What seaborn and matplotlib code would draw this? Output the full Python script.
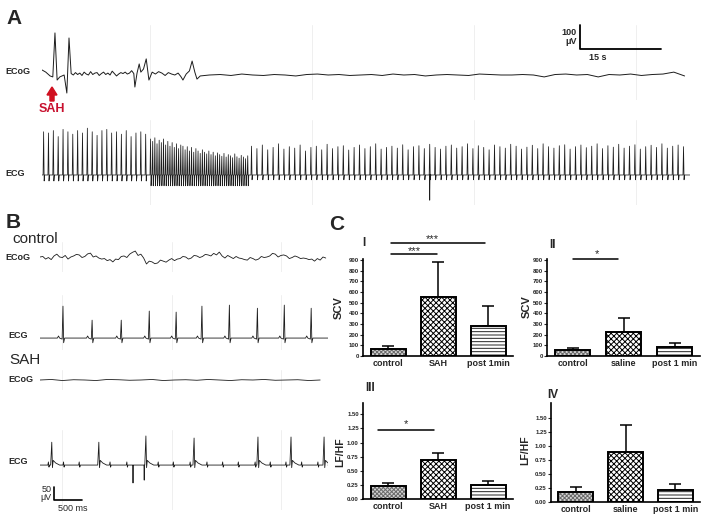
import numpy as np
import pandas as pd
import matplotlib
matplotlib.use("Agg")
import matplotlib.pyplot as plt
from matplotlib.ticker import FormatStrFormatter
import seaborn as sns

# ---------------- data ----------------
# Panel A, ECoG (time in s, amplitude in uV)
ecog_a_t = [0.0, 0.7, 1.5, 2.0, 2.4, 2.8, 3.3, 4.1, 4.6, 5.0]
ecog_a_v = [21, 12, -4, -8, 175, -21, -8, 0, -75, 154]
# sampled every 0.4 s from 5.4 s
ecog_a_wiggle_v = [6, 0, 10, 2, 8, -2, 12, 4, 0, 14, 2, 8, 10, -2, 6,
                   12, 2, 8, 0, 16, 6, -4, 4, 10, 6, 12, 4, 8, 18, 6]
ecog_a_burst_t = [17.2, 17.6, 18.0, 18.3, 18.8, 19.3, 19.8, 20.4, 21.0, 21.6, 22.2, 22.8,
                  23.4, 24.0, 24.6, 25.2, 25.7, 26.1, 26.7, 27.3, 27.8, 28.3, 28.7, 29.3]
ecog_a_burst_v = [-50, 8, 46, 12, 25, 67, -21, 12, 4, 14, 8, -2,
                  10, 4, 0, 8, -6, -21, 4, 17, 58, 12, -17, -4]
# sampled every 2 s from 31 s
ecog_a_flat_v = [0, 2, -2, 4, 0, -2, 2, 0, -4, 2,
                 4, 0, 2, -2, 0, 2, -2, 4, 0, 2,
                 -4, 0, 2, 0, -2, 4, 2, 0, 0, 2,
                 0, -8, 2, 4, 0, 2, -8, 2, 0, 4,
                 -2, 2, 4, 12, -4]

# Panel A, ECG: three rhythm segments (start s, beat interval s, R amplitudes uV, S depth uV)
ecg_a_seg_start = [0.3, 20.1, 38.8]
ecg_a_seg_rr = [0.9, 0.4, 1.0]
ecg_a_seg_depth = [25, 45, 20]
ecg_a_amps_1 = [180, 175, 185, 160, 190, 180, 170, 185, 175, 195, 180,
                165, 185, 190, 175, 180, 170, 185, 160, 175, 180, 170]
ecg_a_amps_2 = [150, 140, 155, 130, 145, 135, 150, 125, 140, 120, 135, 115,
                130, 110, 125, 120, 105, 118, 100, 115, 95, 110, 100, 90,
                105, 95, 88, 100, 85, 95, 80, 92, 85, 78, 90, 75,
                85, 80, 72, 88, 76, 70, 82, 75, 68, 80]
ecg_a_amps_3 = [120, 110, 125, 105, 115, 130, 108, 118, 112, 125, 100, 115, 120, 105, 128, 110, 118, 122, 104, 115,
                125, 110, 118, 130, 108, 115, 120, 112, 126, 105, 118, 122, 110, 128, 115, 108, 120, 125, 112, 118,
                130, 110, 122, 115, 105, 125, 118, 112, 128, 120, 108, 116, 124, 110, 130, 118, 112, 122, 126, 108,
                118, 125, 114, 120, 130, 110, 122, 116, 128, 112, 120, 126, 108, 118, 124, 115, 130, 112, 120, 125, 118]
ecg_a_down_t = [71.8]
ecg_a_down_v = [-105]

# Panel B, control ECoG, sampled every 0.05 s
ecog_ctrl_v = [4, 6, -4, 2, -6, 8, 15, 4, 2, 10, -4, 4, 8, 14, 12, 2, 6, 16, 19, 4,
               8, 0, -4, -2, -10, -6, -15, -4, -6, 6, 8, 2, 15, 22, 27, 10, 15, 0, -23, -12,
               -15, -22, -19, -8, -12, -16, -8, -2, -10, -4, -2, 6, 4, -4, 0, 10, 8, 2, 6, 14,
               12, 8, 18, 12, 23, 8, 0, 10, 4, -2, 6, 0, -2, -6, -8, 2, -2, -8, -4, 6,
               2, 4, 8, 18, 15, 4, 10, 12, 8, -2, 2, 8, 4, -2, 0, -2, -6, -4, -12, -2,
               -8, 4, 0]
# Panel B, control ECG beats
ecg_ctrl_t = [0.41, 0.93, 1.45, 1.95, 2.43, 2.89, 3.38, 3.88, 4.36, 4.84]
ecg_ctrl_a = [123, 69, 69, 104, 100, 123, 127, 115, 127, 115]
# Panel B, SAH ECoG, sampled every 0.2 s
ecog_sah_v = [0, 2, -2, 1, 0, -2, 2, 1, -1, 0, 2, -2, 0, 1, -1, 2, 0, -2, 1, 0, 2, -1, 0, 1, -2, 0]
# Panel B, SAH ECG
ecg_sah_big_t = [0.21, 1.05, 1.89, 2.75, 3.89, 4.48, 5.07]
ecg_sah_big_a = [88, 88, 112, 104, 108, 108, 108]
ecg_sah_small_t = [0.15, 0.42, 0.70, 1.25, 1.55, 2.11, 2.38, 2.68, 2.98, 3.26,
                   3.54, 3.84, 4.11, 4.39, 4.67, 4.96]
ecg_sah_down_t = [1.66, 1.86]
ecg_sah_down_a = [-69, -58]

# Panel C bar data (mean and SD)
groups_sah = ["control", "SAH", "post 1min"]
groups_sah_lf = ["control", "SAH", "post 1 min"]
groups_saline = ["control", "saline", "post 1 min"]
scv_sah_mean = [68, 556, 281]
scv_sah_sd = [22, 329, 188]
scv_saline_mean = [55, 225, 80]
scv_saline_sd = [23, 128, 42]
lfhf_sah_mean = [0.23, 0.69, 0.25]
lfhf_sah_sd = [0.05, 0.12, 0.07]
lfhf_saline_mean = [0.18, 0.89, 0.21]
lfhf_saline_sd = [0.09, 0.48, 0.12]

# ---------------- figure ----------------
sns.set_style("white")
plt.rcParams["font.family"] = ["Liberation Sans", "DejaVu Sans"]
plt.rcParams["hatch.linewidth"] = 0.7

W, H = 703, 520
fig = plt.figure(figsize=(W / 100, H / 100), dpi=100)
TRACE = "#1c1c1c"


def px_axes(x0, y0, x1, y1):
    return fig.add_axes([x0 / W, 1 - y1 / H, (x1 - x0) / W, (y1 - y0) / H])


def ftext(x, y, s, **kw):
    kw.setdefault("va", "center")
    return fig.text(x / W, 1 - y / H, s, **kw)


def trace(ax, t, v, lw=0.6):
    sns.lineplot(x=np.asarray(t, float), y=np.asarray(v, float), ax=ax, color=TRACE,
                 linewidth=lw, estimator=None, sort=False)


def trace_ax(ax, xlim, ylim, grid):
    ax.set_xlim(*xlim)
    ax.set_ylim(*ylim)
    for g in grid:
        ax.axvline(g, color="#ececec", lw=0.6, zorder=0)
    ax.axis("off")


def events_to_path(events, t0, t1):
    events = sorted(events, key=lambda e: e[0][0])
    ts, vs = [t0], [0.0]
    for ev in events:
        for tt, vv in ev:
            ts.append(tt)
            vs.append(vv)
    ts.append(t1)
    vs.append(0.0)
    return ts, vs


# ----- Panel A -----
ax = px_axes(42, 25, 690, 100)
t = list(ecog_a_t) + list(5.4 + 0.4 * np.arange(len(ecog_a_wiggle_v))) + list(ecog_a_burst_t) \
    + list(31 + 2 * np.arange(len(ecog_a_flat_v)))
v = list(ecog_a_v) + list(ecog_a_wiggle_v) + list(ecog_a_burst_v) + list(ecog_a_flat_v)
trace(ax, t, v, lw=0.7)
trace_ax(ax, (0, 120), (-104, 208), [20, 50, 80, 110])
# scale bar 100 uV / 15 s
ax.plot([99.6, 99.6, 114.6], [208, 108, 108], color="black", lw=1.3, clip_on=False)
ax.text(99.0, 158, "100\nμV", ha="right", va="center", fontsize=6.5, fontweight="bold", linespacing=0.9)
ax.text(101.3, 71, "15 s", ha="left", va="center", fontsize=6.5, fontweight="bold")

ax = px_axes(42, 120, 690, 205)
events = []
for start, rr, depth, amps in zip(ecg_a_seg_start, ecg_a_seg_rr, ecg_a_seg_depth,
                                  [ecg_a_amps_1, ecg_a_amps_2, ecg_a_amps_3]):
    for i, a in enumerate(amps):
        tb = start + i * rr
        events.append([(tb - 0.1, 0), (tb, a), (tb + 0.1, -depth), (tb + 0.2, 0)])
for tb, a in zip(ecg_a_down_t, ecg_a_down_v):
    events.append([(tb - 0.05, 0), (tb, a), (tb + 0.05, 0)])
t, v = events_to_path(events, 0, 120)
trace(ax, t, v, lw=0.55)
trace_ax(ax, (0, 120), (-125, 229), [20, 50, 80, 110])

ftext(6, 18, "A", fontsize=15, fontweight="bold")
ftext(5, 72, "ECoG", fontsize=6.5, fontweight="bold")
ftext(5, 174, "ECG", fontsize=6.5, fontweight="bold")
ftext(52, 109, "SAH", fontsize=9, fontweight="bold", color="#c8102e", ha="center")
fig.add_artist(matplotlib.patches.FancyArrow(52 / W, 1 - 101 / H, 0, 14 / H, width=3 / H,
                                             head_width=10 / W, head_length=8 / H,
                                             length_includes_head=True, color="#d01020",
                                             transform=fig.transFigure))

# ----- Panel B -----
tb_end = 5.14
ax = px_axes(40, 242, 328, 272)
trace(ax, 0.05 * np.arange(len(ecog_ctrl_v)), ecog_ctrl_v)
trace_ax(ax, (0, tb_end), (-54, 62), [0.4, 2.35, 4.3])

ax = px_axes(40, 295, 328, 350)
events = []
for tb, a in zip(ecg_ctrl_t, ecg_ctrl_a):
    events.append([(tb - 0.10, 0), (tb - 0.08, 8), (tb - 0.06, 0), (tb - 0.015, -4),
                   (tb, a), (tb + 0.012, -18), (tb + 0.03, 0)])
t, v = events_to_path(events, 0, tb_end)
trace(ax, t, v)
trace_ax(ax, (0, tb_end), (-46, 166), [0.4, 2.35, 4.3])

ax = px_axes(40, 370, 328, 390)
trace(ax, 0.2 * np.arange(len(ecog_sah_v)), ecog_sah_v)
trace_ax(ax, (0, tb_end), (-38, 38), [0.4, 2.35, 4.3])

ax = px_axes(40, 430, 328, 510)
events = []
for tb, a in zip(ecg_sah_big_t, ecg_sah_big_a):
    events.append([(tb - 0.02, 0), (tb, a), (tb + 0.012, -10), (tb + 0.025, 18),
                   (tb + 0.07, 8), (tb + 0.14, 0)])
for tb in ecg_sah_small_t:
    events.append([(tb - 0.01, 0), (tb, 12), (tb + 0.01, -8), (tb + 0.02, 0)])
for tb, a in zip(ecg_sah_down_t, ecg_sah_down_a):
    events.append([(tb - 0.005, 0), (tb, a), (tb + 0.005, 0)])
t, v = events_to_path(events, 0, tb_end)
trace(ax, t, v)
trace_ax(ax, (0, tb_end), (-173, 135), [0.4, 2.35, 4.3])
ax.plot([0.25, 0.25, 0.75], [-85, -135, -135], color="black", lw=1.2, clip_on=False)
ax.text(0.2, -110, "50\nμV", ha="right", va="center", fontsize=6.5, linespacing=0.9)
ax.text(0.32, -167, "500 ms", ha="left", va="center", fontsize=6.5)

ftext(6, 222, "B", fontsize=15, fontweight="bold")
ftext(12, 239, "control", fontsize=11)
ftext(5, 257, "ECoG", fontsize=6.5, fontweight="bold")
ftext(8, 336, "ECG", fontsize=6.5, fontweight="bold")
ftext(9, 360, "SAH", fontsize=11)
ftext(8, 380, "ECoG", fontsize=6.5, fontweight="bold")
ftext(8, 462, "ECG", fontsize=6.5, fontweight="bold")

# ----- Panel C -----
# (face colour, hatch colour, hatch) for control, SAH/saline, post 1 min
HATCHES = [("#d4d4d4", "#6a6a6a", "xxxxxxxx"), ("white", "black", "xxxxxx"), ("white", "#222222", "-----")]


def bar_panel(box, groups, means, sds, ylim, yticks, fmt):
    ax = px_axes(*box)
    df = pd.DataFrame({"group": groups, "value": means})
    ax.errorbar(x=np.arange(3), y=means, yerr=[np.zeros(3), sds], fmt="none",
                ecolor="black", elinewidth=1.1, capsize=4.5, capthick=1.1, zorder=1)
    # hatched fill
    sns.barplot(data=df, x="group", y="value", ax=ax, color="white", width=0.7,
                linewidth=0, errorbar=None, zorder=2)
    for p, (fc, hc, h) in zip(ax.patches, HATCHES):
        p.set_facecolor(fc)
        p.set_edgecolor(hc)
        p.set_hatch(h)
    # black outline
    sns.barplot(data=df, x="group", y="value", ax=ax, fill=False, width=0.7,
                edgecolor="black", linewidth=1.4, errorbar=None, zorder=3)
    ax.set_xlim(-0.5, 2.5)
    ax.set_ylim(*ylim)
    ax.set_yticks(yticks)
    ax.yaxis.set_major_formatter(FormatStrFormatter(fmt))
    ax.set_xlabel("")
    ax.set_ylabel("")
    sns.despine(ax=ax)
    for s in ["left", "bottom"]:
        ax.spines[s].set_linewidth(1.2)
        ax.spines[s].set_color("black")
    ax.tick_params(axis="y", left=True, length=2, width=0.8, pad=1, labelsize=4.3)
    ax.tick_params(axis="x", length=0, pad=2, labelsize=6.5)
    for lbl in ax.get_yticklabels() + ax.get_xticklabels():
        lbl.set_fontweight("bold")
    return ax


ax1 = bar_panel((363, 259, 513, 356), groups_sah, scv_sah_mean, scv_sah_sd,
                (0, 910), range(0, 901, 100), "%d")
ax1.plot([0.06, 0.98], [957, 957], color="black", lw=1.1, clip_on=False)
ax1.plot([0.06, 1.94], [1060, 1060], color="black", lw=1.1, clip_on=False)
ax1.text(0.52, 985, "***", ha="center", va="center", fontsize=8, clip_on=False)
ax1.text(0.88, 1100, "***", ha="center", va="center", fontsize=8, clip_on=False)

ax2 = bar_panel((547, 259, 700, 356), groups_saline, scv_saline_mean, scv_saline_sd,
                (0, 910), range(0, 901, 100), "%d")
ax2.plot([0.0, 0.9], [910, 910], color="black", lw=1.1, clip_on=False)
ax2.text(0.47, 960, "*", ha="center", va="center", fontsize=8, clip_on=False)

ax3 = bar_panel((363, 403, 513, 499), groups_sah_lf, lfhf_sah_mean, lfhf_sah_sd,
                (0, 1.7), np.arange(0, 1.51, 0.25), "%.2f")
ax3.plot([-0.2, 0.92], [1.22, 1.22], color="black", lw=1.1)
ax3.text(0.36, 1.33, "*", ha="center", va="center", fontsize=8)

ax4 = bar_panel((551, 403, 700, 502), groups_saline, lfhf_saline_mean, lfhf_saline_sd,
                (0, 1.77), np.arange(0, 1.51, 0.25), "%.2f")

ftext(329, 224, "C", fontsize=15, fontweight="bold")
ftext(364, 243, "I", fontsize=8.5, fontweight="bold", ha="center")
ftext(553, 245, "II", fontsize=8.5, fontweight="bold", ha="center")
ftext(370, 388, "III", fontsize=8.5, fontweight="bold", ha="center")
ftext(553, 395, "IV", fontsize=8.5, fontweight="bold", ha="center")
ftext(339, 308, "SCV", fontsize=8, fontweight="bold", rotation=90, ha="center")
ftext(527, 307, "SCV", fontsize=8, fontweight="bold", rotation=90, ha="center")
ftext(340, 452, "LF/HF", fontsize=7.5, fontweight="bold", rotation=90, ha="center")
ftext(525, 450, "LF/HF", fontsize=7.5, fontweight="bold", rotation=90, ha="center")

fig.savefig("out.png", dpi=100)
